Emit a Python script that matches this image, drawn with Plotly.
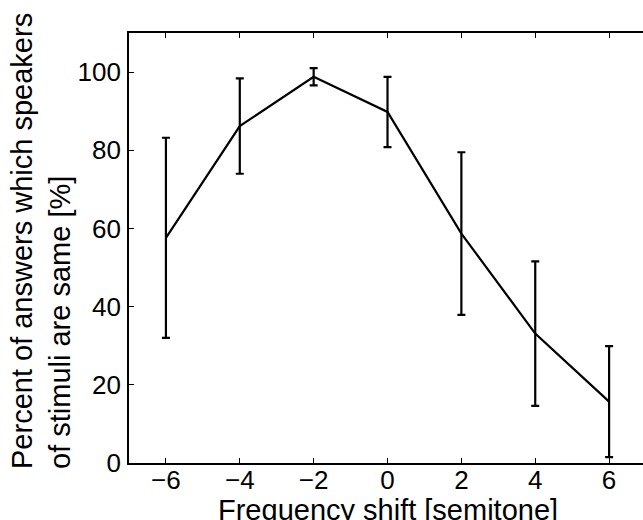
import plotly.graph_objects as go

shift = [-6, -4, -2, 0, 2, 4, 6]
percent = [57.6, 86.2, 98.8, 89.8, 58.7, 33.1, 15.7]
err = [25.6, 12.2, 2.2, 9.0, 20.8, 18.5, 14.2]
xticks = [-6, -4, -2, 0, 2, 4, 6]
yticks = [0, 20, 40, 60, 80, 100]

FONT = "Liberation Sans, Arial, sans-serif"

fig = go.Figure()
fig.add_trace(go.Scatter(
    x=shift, y=percent, mode="lines",
    line=dict(color="black", width=2.2),
    error_y=dict(type="data", array=err, visible=True, color="black",
                 thickness=2.2, width=4),
    showlegend=False,
))

fig.update_layout(
    width=643, height=520,
    margin=dict(l=129, r=0, t=33, b=57),
    paper_bgcolor="white", plot_bgcolor="white",
    font=dict(family=FONT, size=26, color="black"),
    xaxis=dict(range=[-7, 6.918], tickvals=xticks, ticks="inside", ticklen=5,
               tickwidth=1, tickcolor="black", showline=True, linecolor="black",
               linewidth=1.6, mirror="ticks", showgrid=False, zeroline=False,
               ticklabelstandoff=-7, tickfont=dict(size=26)),
    yaxis=dict(range=[0, 110], tickvals=yticks, ticks="inside", ticklen=5,
               tickwidth=1, tickcolor="black", showline=True, linecolor="black",
               linewidth=1.6, mirror=False, showgrid=False, zeroline=False,
               ticklabelstandoff=1, tickfont=dict(size=26)),
    yaxis2=dict(range=[0, 110], overlaying="y", side="right", tickvals=yticks,
                ticks="inside", ticklen=5, tickwidth=1, tickcolor="black",
                showticklabels=False, showline=False, showgrid=False,
                zeroline=False),
    annotations=[
        dict(text="Frequency shift [semitone]", xref="paper", yref="paper",
             x=(388 - 129) / 514, y=0.0, yshift=-47, showarrow=False,
             xanchor="center", yanchor="middle", font=dict(size=29)),
        dict(text="Percent of answers which speakers<br>of stimuli are same [%]",
             xref="paper", yref="paper", x=0, xshift=-88,
             y=(463 - 471) / 430, yanchor="bottom", align="left",
             textangle=-90, showarrow=False, xanchor="center",
             font=dict(size=29)),
    ],
)

fig.write_html(
    "out.html",
    config={"displayModeBar": False},
    post_script="document.body.style.margin='0';document.body.style.overflow='hidden';",
)
